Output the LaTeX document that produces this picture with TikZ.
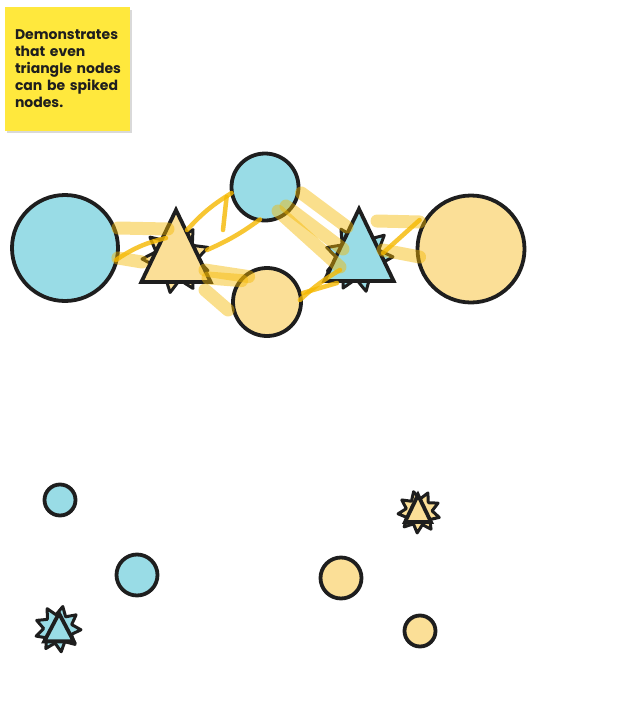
\documentclass[tikz,border=0pt]{standalone}
\usepackage{fontspec}
\setsansfont{Poppins}
\usetikzlibrary{shapes.geometric,positioning,calc}
\definecolor{skInk}{HTML}{1E1E1E}
\definecolor{skBlue}{HTML}{99DCE6}
\definecolor{skSand}{HTML}{FBDF97}
\definecolor{skNote}{HTML}{FFE83D}
\definecolor{skMark}{HTML}{F5B800}
\tikzset{
  sk/.style={x=1pt, y=-1pt, line join=round},
  ring/.style={circle, draw=skInk, line width=3.8pt, inner sep=0pt},
  tri/.style={regular polygon, regular polygon sides=3, draw=skInk, line width=3.8pt, inner sep=0pt, line join=miter},
  spikes/.style={star, star points=9, star point ratio=1.6, draw=skInk, line width=3pt, inner sep=0pt},
  note/.style={fill=skNote, minimum width=125pt, minimum height=124pt, text width=105pt, inner xsep=10pt, align=left,
               font=\sffamily\bfseries\fontsize{14}{17}\selectfont, text=skInk},
  hilite/.style={draw=skMark, line width=13pt, opacity=.45, line cap=round},
  strand/.style={draw=skMark, line width=4.5pt, opacity=.8, line cap=round},
}
\begin{document}
\begin{tikzpicture}[sk]
\useasboundingbox (0,0) rectangle (627,715);
\fill[black, opacity=.15] (7,10) rectangle (132,133);
\node[note] (memo) at (67.5,69) {Demonstrates\\that even\\triangle~nodes\\can~be~spiked\\nodes.};

\node[spikes, fill=skSand, minimum size=68pt, rotate=10] (spkL) at (176,259) {};
\node[spikes, fill=skBlue, minimum size=68pt, rotate=-8] (spkR) at (359,258) {};
\node[tri, fill=skSand, minimum size=80pt, yscale=1.2] (triL) at (176,258) {};
\node[tri, fill=skBlue, minimum size=80pt, yscale=1.2] (triR) at (359,257) {};

\foreach \n/\x/\y/\d/\c in {ringL/65/248/106/skBlue, ringT/265/187/67/skBlue, ringB/267/302/68/skSand,
                            ringR/471/249/107/skSand, dotA/60/500/31/skBlue, dotB/137/575/41/skBlue,
                            dotC/341/578/41/skSand, dotD/420/631/31/skSand}
  \node[ring, fill=\c, minimum size=\d pt] (\n) at (\x,\y) {};

\node[spikes, fill=skSand, minimum size=42pt, rotate=15] (spkY) at (419,512) {};
\node[tri, fill=skSand, minimum size=30pt, yscale=1.2] (triY) at (418,513) {};
\node[spikes, fill=skBlue, minimum size=46pt, rotate=-12] (spkS) at (58,629) {};
\node[tri, fill=skBlue, minimum size=34pt, yscale=1.1] (triS) at (59,632) {};

\draw[hilite] ($(ringL.east)+(-2,-20)$) -- ($(triL.center)+(-8,-29)$);
\draw[hilite] ($(ringL.east)+(-2,10)$) -- ($(triL.center)+(-34,4)$);
\draw[strand] ($(ringL.east)+(-4,12)$) to[bend left=10] ($(triL.center)+(-10,-20)$);
\draw[strand] ($(triL.center)+(11,-28)$) to[bend left=8] ($(ringT.west)+(2,6)$);
\draw[strand] ($(triL.center)+(31,-8)$) to[bend right=6] ($(ringT.south)+(-5,-3)$);
\draw[strand] ($(triL.center)+(47,-28)$) -- ($(ringT.west)+(-3,10)$);
\draw[hilite] ($(triL.center)+(29,12)$) -- ($(ringB.north west)+(7,0)$);
\draw[hilite] ($(triL.center)+(32,20)$) -- ($(ringB.north west)+(0,4)$);
\draw[hilite] ($(triL.center)+(29,32)$) -- ($(ringB.west)+(-3,8)$);
\draw[hilite] ($(ringT.south east)+(-12,-1)$) -- ($(triR.center)+(-19,10)$);
\draw[hilite] ($(ringT.south east)+(-4,-6)$) -- ($(triR.center)+(-16,-8)$);
\draw[hilite] ($(ringT.east)+(1,6)$) -- ($(triR.center)+(-12,-30)$);
\draw[strand] ($(ringB.east)+(-3,-2)$) to[bend left=6] ($(triR.center)+(-19,13)$);
\draw[strand] ($(ringB.east)+(0,-9)$) -- ($(triR.center)+(-22,26)$);
\draw[hilite] ($(triR.center)+(18,-36)$) -- ($(ringR.west)+(4,-27)$);
\draw[hilite] ($(triR.center)+(24,-7)$) -- ($(ringR.west)+(4,8)$);
\draw[strand] ($(triR.center)+(24,-4)$) -- ($(ringR.west)+(4,-29)$);
\end{tikzpicture}
\end{document}
